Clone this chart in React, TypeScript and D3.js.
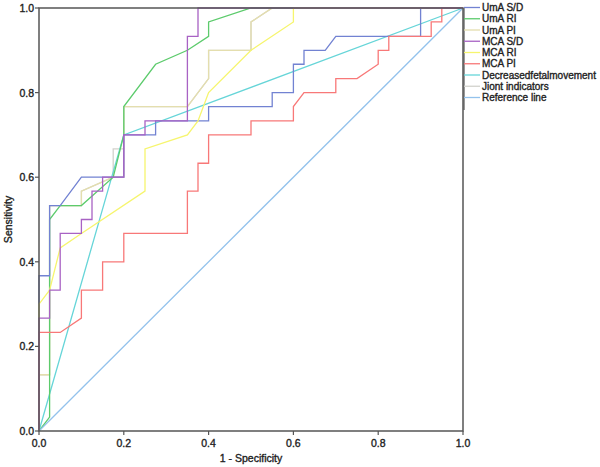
import React from "react";
import * as d3 from "d3";

type Pt = [number, number];

const umaSD: Pt[] = [[0,0],[0,0.367],[0.025,0.367],[0.025,0.533],[0.05,0.533],[0.1,0.6],[0.2,0.6],[0.2,0.7],[0.275,0.7],[0.275,0.733],[0.4,0.733],[0.4,0.767],[0.55,0.767],[0.55,0.8],[0.6,0.8],[0.6,0.867],[0.625,0.867],[0.625,0.9],[0.675,0.9],[0.7,0.933],[0.9,0.933],[0.9,1],[1,1]];
const umaRI: Pt[] = [[0,0],[0.025,0.033],[0.025,0.5],[0.05,0.533],[0.1,0.533],[0.175,0.6],[0.2,0.7],[0.2,0.767],[0.275,0.867],[0.35,0.9],[0.4,0.933],[0.4,0.967],[0.5,1],[1,1]];
const umaPI: Pt[] = [[0,0],[0,0.133],[0.025,0.133],[0.025,0.533],[0.1,0.533],[0.1,0.567],[0.175,0.6],[0.2,0.6],[0.2,0.767],[0.35,0.767],[0.4,0.833],[0.4,0.9],[0.5,0.9],[0.5,0.967],[0.55,1],[1,1]];
const mcaSD: Pt[] = [[0,0],[0,0.267],[0.025,0.267],[0.025,0.333],[0.05,0.333],[0.05,0.467],[0.1,0.467],[0.1,0.5],[0.125,0.5],[0.125,0.567],[0.15,0.567],[0.15,0.6],[0.2,0.6],[0.2,0.7],[0.25,0.7],[0.25,0.733],[0.35,0.733],[0.35,0.933],[0.375,0.933],[0.375,1],[1,1]];
const mcaRI: Pt[] = [[0,0],[0,0.3],[0.025,0.333],[0.05,0.433],[0.1,0.467],[0.25,0.567],[0.25,0.667],[0.35,0.7],[0.375,0.733],[0.4,0.8],[0.5,0.9],[0.6,0.967],[0.6,1],[1,1]];
const mcaPI: Pt[] = [[0,0],[0,0.233],[0.05,0.233],[0.1,0.267],[0.1,0.333],[0.15,0.333],[0.15,0.4],[0.2,0.4],[0.2,0.467],[0.35,0.467],[0.35,0.567],[0.375,0.567],[0.375,0.633],[0.4,0.633],[0.4,0.7],[0.5,0.7],[0.5,0.733],[0.6,0.733],[0.6,0.767],[0.625,0.8],[0.7,0.8],[0.7,0.833],[0.75,0.833],[0.8,0.867],[0.8,0.9],[0.825,0.9],[0.825,0.933],[0.925,0.933],[0.925,0.967],[0.95,0.967],[0.95,1],[1,1]];
const decreased: Pt[] = [[0,0],[0.2,0.7],[1,1]];
const joint: Pt[] = [[0,0],[0,0.133],[0.025,0.133],[0.025,0.533],[0.1,0.533],[0.1,0.567],[0.175,0.6],[0.175,0.667],[0.2,0.667],[0.2,0.767],[0.35,0.767],[0.4,0.833],[0.4,0.9],[0.5,0.9],[0.5,0.967],[0.55,1],[1,1]];
const reference: Pt[] = [[0,0],[1,1]];

const seriesNames = ["UmA S/D","UmA RI","UmA PI","MCA S/D","MCA RI","MCA PI","Decreasedfetalmovement","Jiont indicators","Reference line"];
const seriesData = [umaSD, umaRI, umaPI, mcaSD, mcaRI, mcaPI, decreased, joint, reference];
const seriesColors = ["#7282d2","#5ccb6c","#e4deae","#a862c4","#f6f56e","#f87878","#66d5d8","#d2d2cc","#93c2ec"];
const drawOrder = [7, 2, 6, 1, 0, 4, 5, 3, 8];

const ticks = [0, 0.2, 0.4, 0.6, 0.8, 1.0];

export default function App() {
  const W = 600, H = 467;
  const x0 = 39, x1 = 463, yTop = 8, yBot = 431;
  const x = d3.scaleLinear().domain([0, 1]).range([x0, x1]);
  const y = d3.scaleLinear().domain([0, 1]).range([yBot, yTop]);
  const line = d3.line<Pt>().x(d => x(d[0])).y(d => y(d[1]));
  const font = "'Liberation Sans', Arial, sans-serif";
  const txt = { fontFamily: font, fontSize: 10.5, fill: "#222", stroke: "#222", strokeWidth: 0.35 } as const;
  const legTxt = { ...txt, fontSize: 10 };
  const legY0 = 7.5, legDy = 11.25;
  return (
    <svg width={W} height={H} style={{ position: "absolute", left: 0, top: 0, background: "#fff" }}>
      <rect x={0} y={0} width={W} height={H} fill="#fff" />
      {drawOrder.map(i => (
        <path key={i} d={line(seriesData[i]) || ""} fill="none" stroke={seriesColors[i]} strokeWidth={1.3} />
      ))}
      <rect x={x0} y={yTop} width={x1 - x0} height={yBot - yTop} fill="none" stroke="#555" strokeWidth={1.5} />
      {ticks.map(t => (
        <g key={"x" + t}>
          <line x1={x(t)} x2={x(t)} y1={yBot} y2={yBot + 4} stroke="#555" strokeWidth={1.2} />
          <text x={x(t)} y={yBot + 16} textAnchor="middle" {...txt}>{t.toFixed(1)}</text>
        </g>
      ))}
      {ticks.map(t => (
        <g key={"y" + t}>
          <line x1={x0 - 4} x2={x0} y1={y(t)} y2={y(t)} stroke="#555" strokeWidth={1.2} />
          <text x={x0 - 5} y={y(t) + 4} textAnchor="end" {...txt}>{t.toFixed(1)}</text>
        </g>
      ))}
      <text x={(x0 + x1) / 2} y={462} textAnchor="middle" {...txt}>1 - Specificity</text>
      <text transform={`translate(12, ${(yTop + yBot) / 2}) rotate(-90)`} textAnchor="middle" {...txt}>Sensitivity</text>
      <line x1={x1 + 1} x2={x1 + 1} y1={yTop} y2={110} stroke="#555" strokeWidth={1.2} />
      {seriesNames.map((n, i) => (
        <g key={n}>
          <line x1={x1 + 1} x2={480} y1={legY0 + i * legDy} y2={legY0 + i * legDy} stroke={seriesColors[i]} strokeWidth={1.3} />
          <text x={482} y={legY0 + i * legDy + 3.6} {...legTxt}>{n}</text>
        </g>
      ))}
    </svg>
  );
}
